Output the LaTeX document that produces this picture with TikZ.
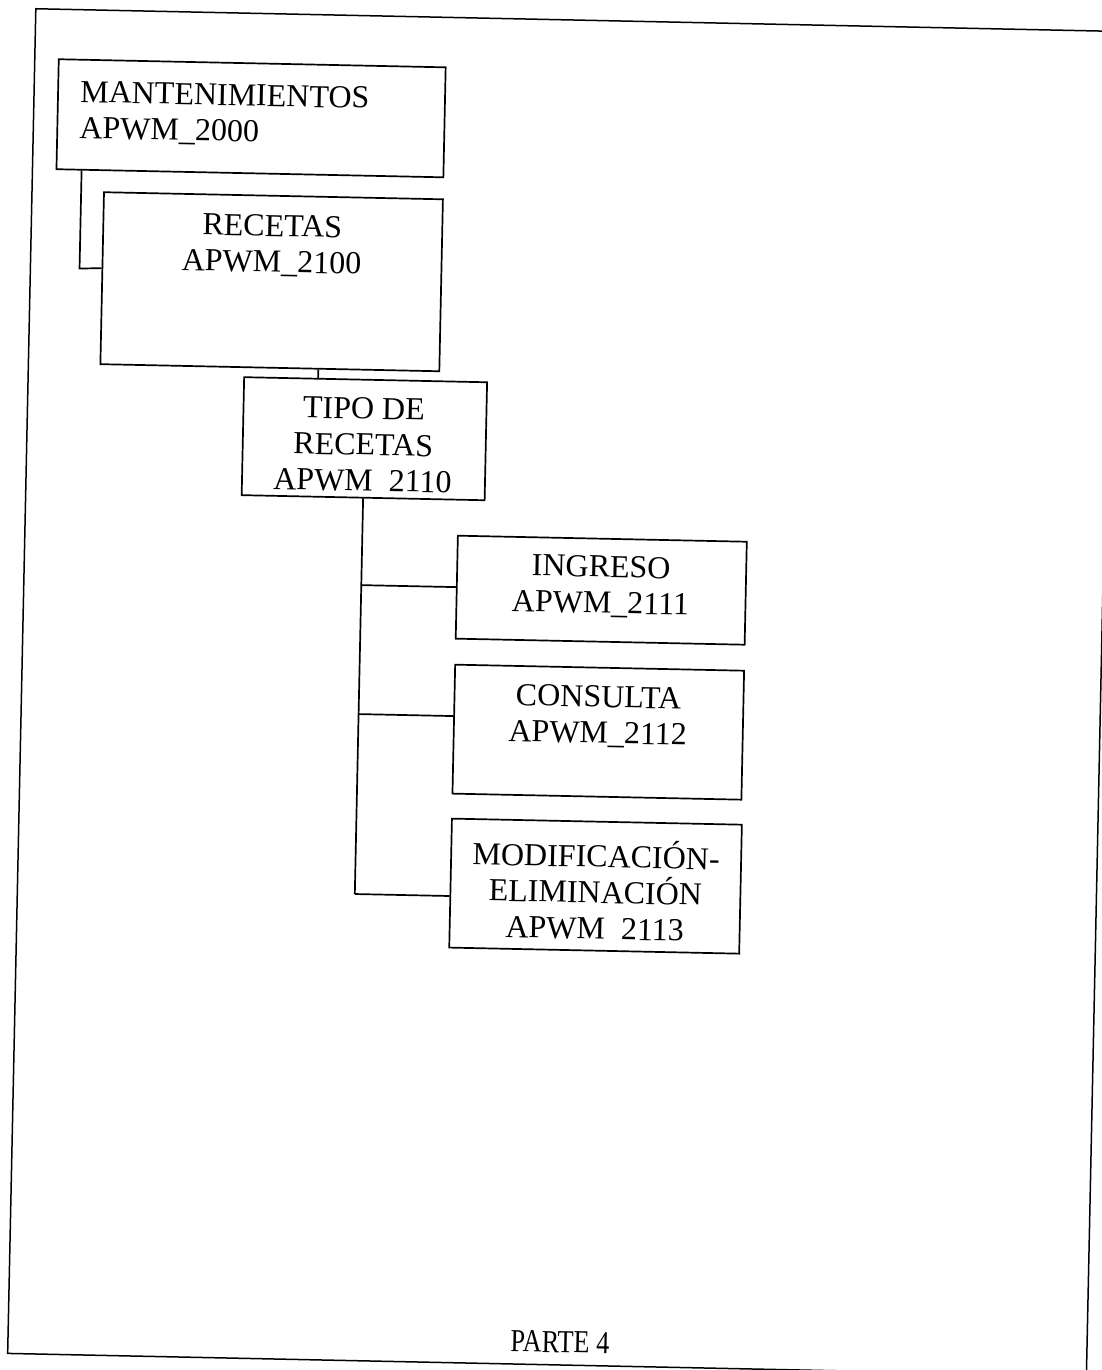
\documentclass[tikz,border=0pt]{standalone}
\usepackage{fontspec}
\setmainfont{Liberation Serif}
\begin{document}
\begin{tikzpicture}[x=1pt,y=-1pt,
  box/.style={draw, line width=1.7pt, inner sep=0pt},
  lbl/.style={font=\fontsize{32}{36}\selectfont, align=center, inner sep=0pt},
  conn/.style={line width=1.7pt}]
\path[use as bounding box, fill=white] (0,0) rectangle (1102,1370);
\begin{scope}[rotate=-1.2, transform shape]
\draw[line width=1.5pt] (36,8) rectangle (1115,1353);
% boxes
\node[box, minimum width=387pt, minimum height=110pt] (mant) at (253.5,113) {};
\node[box, minimum width=339pt, minimum height=172pt] (rec) at (277.5,276) {};
\node[box, minimum width=243pt, minimum height=118pt] (tipo) at (373.5,431) {};
\node[box, minimum width=289pt, minimum height=103pt] (ing) at (613.5,577.5) {};
\node[box, minimum width=289pt, minimum height=129pt] (cons) at (613.5,719.5) {};
\node[box, minimum width=290pt, minimum height=129pt] (modi) at (614,873.5) {};
% texts
\node[lbl, align=left, anchor=west] (mantT) at (82,110) {MANTENIMIENTOS\\APWM\_2000};
\node[lbl] (recT) at (277,240) {RECETAS\\APWM\_2100};
\node[lbl] (tipoT) at (372.5,437) {TIPO DE\\RECETAS\\APWM\hspace{0.5em}2110};
\node[lbl] (ingT) at (613,574) {INGRESO\\APWM\_2111};
\node[lbl] (consT) at (613,704) {CONSULTA\\APWM\_2112};
\node[lbl] (modiT) at (614,877) {MODIFICACIÓN-\\ELIMINACIÓN\\APWM\hspace{0.5em}2113};
\node[lbl, xscale=0.82] (parte) at (588,1330) {PARTE 4};
% junctions
\coordinate (j1) at (373.5,577.5);
\coordinate (j2) at (373.5,706.5);
\coordinate (j3) at (373.5,886.5);
% connectors
\draw[conn] ([xshift=26pt]mant.south west) -- ([xshift=26pt,yshift=-98pt]mant.south west) -- ([yshift=10pt]rec.west);
\draw[conn] ([xshift=48.5pt]rec.south) -- ([xshift=-47.5pt]tipo.north);
\draw[conn] (tipo.south) -- (j3);
\draw[conn] (j1) -- (ing.west);
\draw[conn] (j2) -- ([yshift=13pt]cons.west);
\draw[conn] (j3) -- ([yshift=-13pt]modi.west);
\end{scope}
\end{tikzpicture}
\end{document}
